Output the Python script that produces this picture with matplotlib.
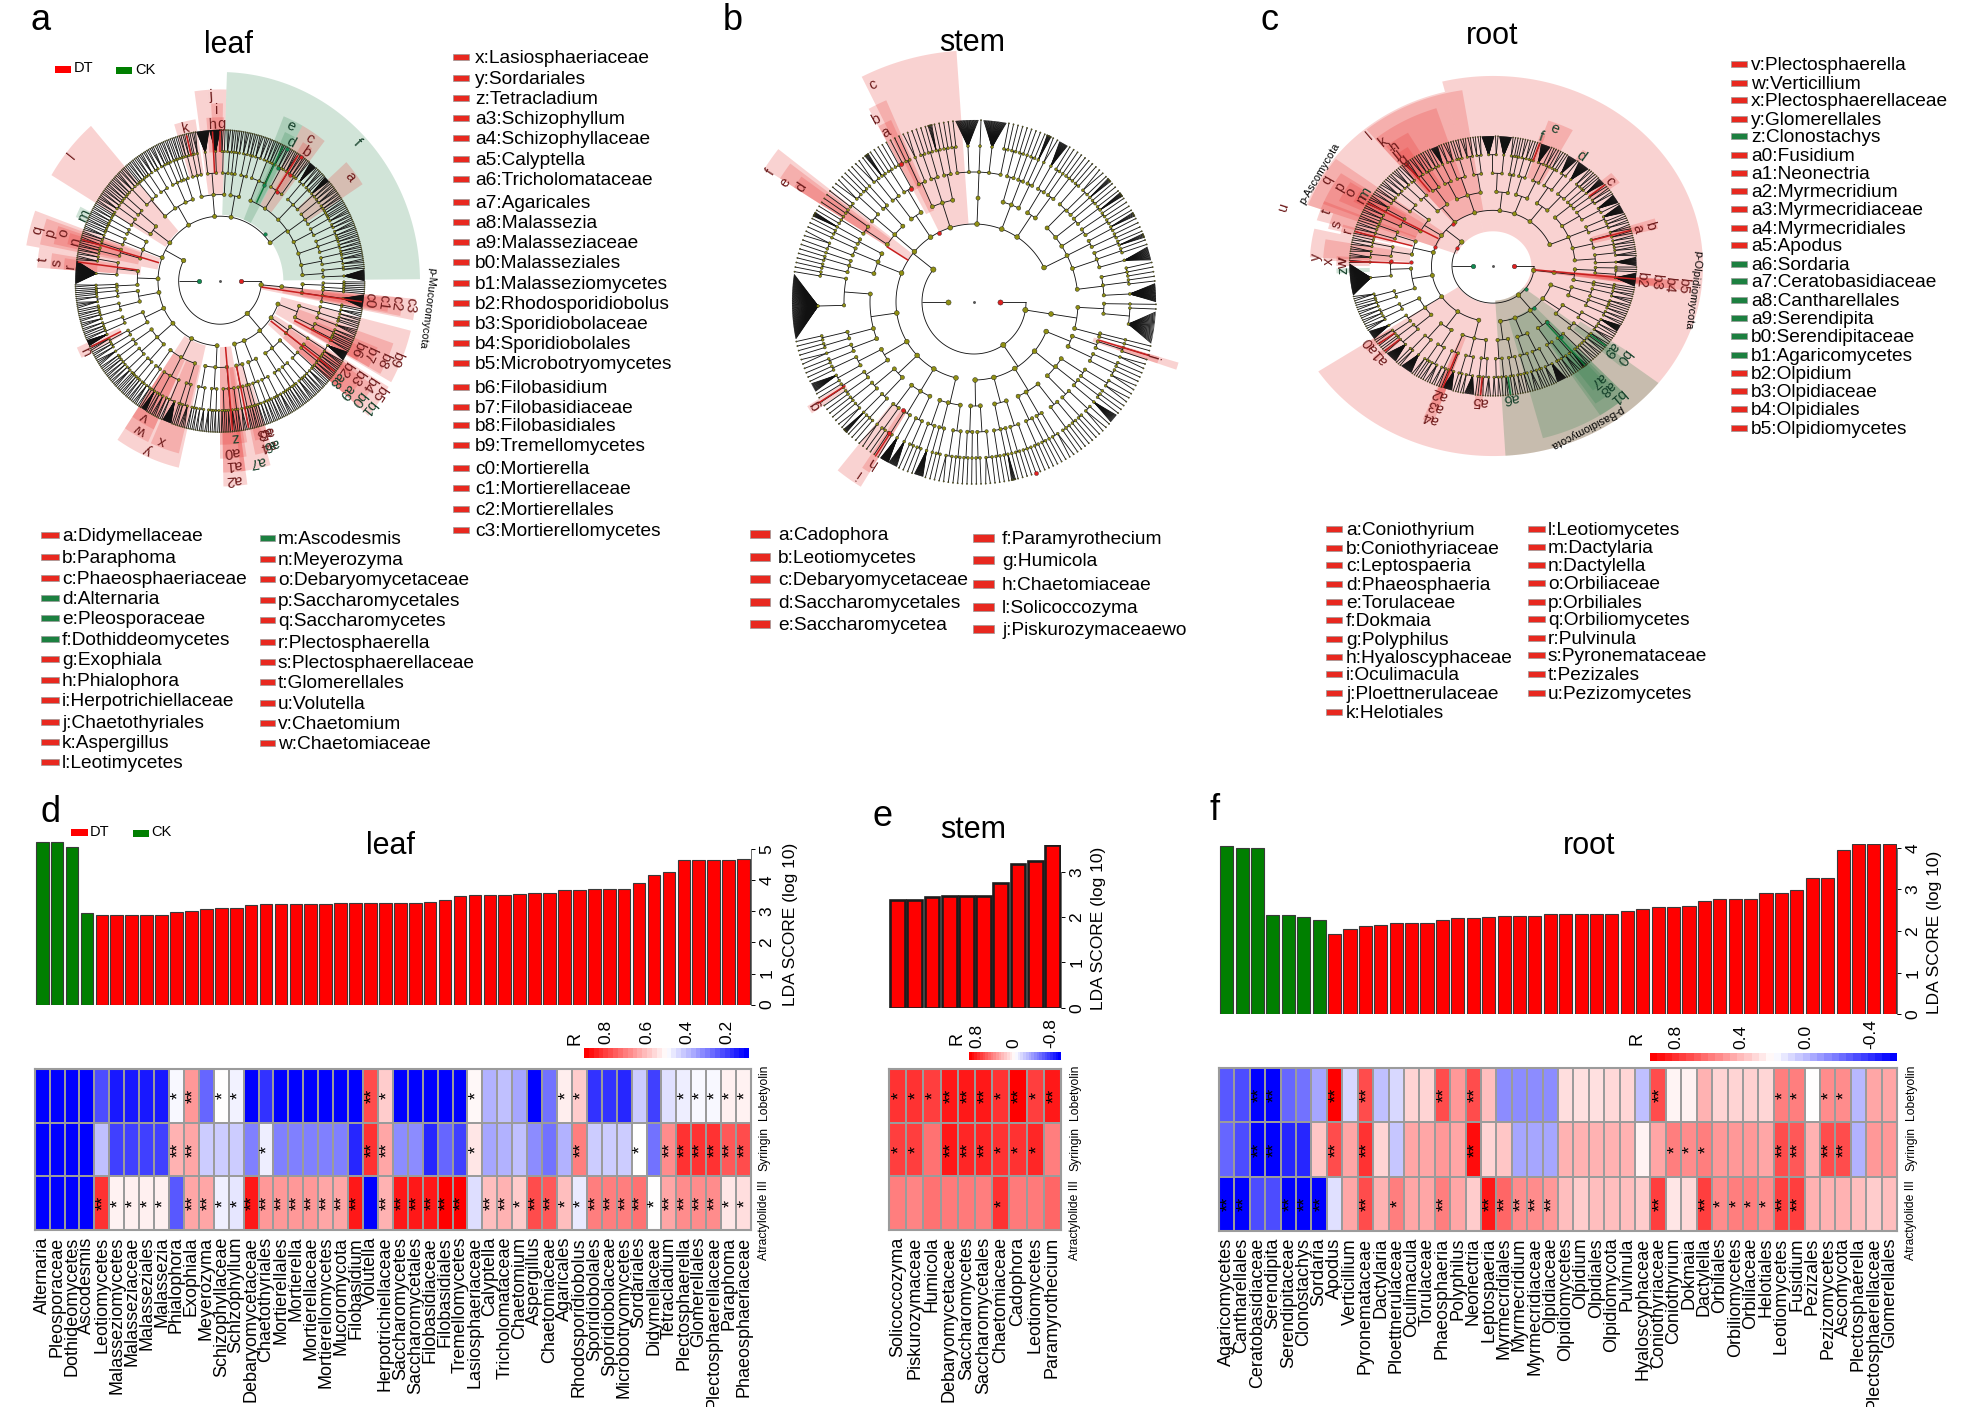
import numpy as np
import matplotlib
matplotlib.use('Agg')
import matplotlib.pyplot as plt
from matplotlib.collections import LineCollection
from matplotlib.colors import LinearSegmentedColormap, Normalize
from matplotlib.patches import Rectangle

plt.rcParams['font.family'] = ['Liberation Sans', 'DejaVu Sans']
W, H = 1961, 1407
RED, GREEN = '#ff0000', '#007f00'
LRED, LGREEN = '#e8281f', '#1c8040'

# ---------------- panel d
d_taxa = ['Alternaria','Pleosporaceae','Dothideomycetes','Ascodesmis','Leotiomycetes','Malasseziomycetes','Malasseziaceae','Malasseziales','Malassezia','Phialophora','Exophiala','Meyerozyma','Schizophyllaceae','Schizophyllum','Debaryomycetaceae','Chaetothyriales','Mortierellales','Mortierella','Mortierellaceae','Mortierellomycetes','Mucoromycota','Filobasidium','Volutella','Herpotrichiellaceae','Saccharomycetes','Saccharomycetales','Filobasidiaceae','Filobasidiales','Tremellomycetes','Lasiosphaeriaceae','Calyptella','Tricholomataceae','Chaetomium','Aspergillus','Chaetomiaceae','Agaricales','Rhodosporidiobolus','Sporidiobolales','Sporidiobolaceae','Microbotryomycetes','Sordariales','Didymellaceae','Tetracladium','Plectosphaerella','Glomerellales','Plectosphaerellaceae','Paraphoma','Phaeosphaeriaceae']
d_lda = [5.25,5.25,5.08,2.95,2.87,2.9,2.9,2.9,2.9,2.97,3.0,3.07,3.12,3.12,3.22,3.23,3.25,3.25,3.25,3.25,3.26,3.27,3.27,3.28,3.28,3.28,3.3,3.38,3.5,3.53,3.53,3.53,3.55,3.6,3.6,3.7,3.7,3.72,3.72,3.72,3.9,4.17,4.28,4.67,4.67,4.67,4.67,4.68]
d_green = 4
d_lob = [-10,-10,-10,-10,-7,-9,-9,-9,-9,-.3,4,-6,0,-.5,-10,-8,-10,-10,-10,-10,-10,-10,7,2,-10,-10,-10,-10,-10,.3,-3,-2.5,-3.5,-10,-5.5,.7,2,-8,-8,-8.5,-2,-7.5,-1.2,-.7,-.3,-.3,.6,.5]
d_syr = [-10,-10,-10,-10,-2.5,-7.5,-7.5,-7.5,-7.5,3,3.5,-2,-2,-2,-5,-.7,-5,-5,-5,-5,-5,-8.5,8,3.5,-4.5,-4.5,-8.5,-6,-7.5,1,-3.5,-3,-2.5,-4.5,-5.5,-3,5,-2,-2,-2,0,-5.5,4.5,8,8,8,6.5,7]
d_atr = [-10,-10,-10,-10,8,.5,.6,.6,.6,-6.5,3.5,3.5,-.6,-1,9,4,4,4,4,3.5,3.5,9,-10,3,9,9,9,10,10,-1.3,2.5,3,2,7,6.5,2.5,-.8,5,5,5,5.5,0,3.5,4.5,4.5,4.5,1,1.3]
d_stars = [{10:1,11:2,13:1,14:1,23:2,24:1,30:1,36:1,37:1,44:1,45:1,46:1,47:1,48:1},
           {10:2,11:2,16:1,23:2,24:2,30:1,37:2,41:1,43:2,44:2,45:2,46:2,47:2,48:2},
           {5:2,6:1,7:1,8:1,9:1,11:2,12:2,13:1,14:1,15:2,16:2,17:2,18:2,19:2,20:2,21:2,22:2,24:2,25:2,26:2,27:2,28:2,29:2,31:2,32:2,33:1,34:2,35:2,36:1,37:1,38:2,39:2,40:2,41:2,42:1,43:2,44:2,45:2,46:2,47:1,48:1}]

# ---------------- panel e
e_taxa = ['Solicoccozyma','Piskurozymaceae','Humicola','Debaryomycetaceae','Saccharomycetes','Saccharomycetales','Chaetomiaceae','Cadophora','Leotiomycetes','Paramyrothecium']
e_lda = [2.37,2.37,2.44,2.46,2.46,2.46,2.75,3.18,3.24,3.59]
e_lob = [8,8,7.5,9,9,9,8,10,7.5,9]
e_syr = [7.5,7.5,5.5,9,8.5,8.5,8,8,8.5,5]
e_atr = [5,4.8,5.5,5.2,5.2,5,8,5.2,5.2,6]
e_stars = [{1:1,2:1,3:1,4:2,5:2,6:2,7:1,8:2,9:1,10:2},{1:1,2:1,4:2,5:2,6:2,7:1,8:1,9:1},{7:1}]

# ---------------- panel f
f_taxa = ['Agaricomycetes','Cantharellales','Ceratobasidiaceae','Serendipita','Serendipitaceae','Clonostachys','Sordaria','Apodus','Verticillium','Pyronemataceae','Dactylaria','Ploettnerulaceae','Oculimacula','Torulaceae','Phaeosphaeria','Polyphilus','Neonectria','Leptospaeria','Myrmecridiales','Myrmecridium','Myrmecridiaceae','Olpidiaceae','Olpidiomycetes','Olpidium','Olpidiales','Olpidiomycota','Pulvinula','Hyaloscyphaceae','Coniothyriaceae','Coniothyrium','Dokmaia','Dactylella','Orbiliales','Orbiliomycetes','Orbiliaceae','Helotiales','Leotiomycetes','Fusidium','Pezizales','Pezizomycetes','Ascomycota','Plectosphaerella','Plectosphaerellaceae','Glomerellales']
f_lda = [4.04,3.99,3.99,2.39,2.39,2.34,2.27,1.94,2.05,2.13,2.15,2.2,2.2,2.2,2.27,2.31,2.31,2.33,2.37,2.37,2.37,2.42,2.42,2.42,2.42,2.42,2.49,2.54,2.58,2.58,2.61,2.72,2.77,2.77,2.77,2.91,2.91,2.98,3.27,3.27,3.95,4.08,4.08,4.08]
f_green = 7
f_lob = [-6.5,-7,-10,-10,-6,-5.5,-3.5,10,-1.5,7,-2.5,-1.5,1.7,1.7,7,4,7,2.5,-4.5,-4.5,-4.5,-4.5,1.3,1.2,1.2,1.5,1.6,-2.5,7,.4,.5,3,1.7,1.7,1.8,1.6,5,5,0,4.5,4.5,-2.8,3.5,3.5]
f_syr = [-6,-7,-10,-10,-8.5,-8.5,2.2,7,3.5,8,1.7,-2.2,3.5,3.5,4,3.5,9.5,1.7,2.2,-3.5,-3.5,-3.5,3,3,3,3,3,.5,3.5,5,4.5,5,4,4,4,3.5,7,6.5,3,7,7,-3,4,4]
f_atr = [-10,-10,-7,-7,-10,-10,-10,-1.2,3.5,7,3,5,3.5,3.5,5,3.5,2,9,6,4.5,4.5,4,2.5,2,2.5,2.5,2.5,2,7.5,1,1.5,7.5,4.5,5,5,4.5,7.5,7.5,3,3,3,2.5,2,2.5]
f_stars = [{3:2,4:2,8:2,10:2,15:2,17:2,29:2,37:1,38:1,40:1,41:1},
           {3:2,4:2,8:2,10:2,17:2,30:1,31:1,32:1,37:2,38:2,40:2,41:2},
           {1:2,2:2,5:2,6:2,7:2,10:2,12:1,15:2,18:2,19:2,20:2,21:2,22:2,29:2,32:2,33:1,34:1,35:1,36:1,37:2,38:2}]
rows = ['Lobetyolin', 'Syringin', 'Atractylolide III']

# ---------------- cladogram trees: phylum > class > order > family > genus (int = leaves, tuple = leaves, width)
tree_a = [
 [[[[1,1,1],[1,1,1]],[[1],[(26,7)],[1,1]]]],
 [[[[3,2],[2,1,1],[4]],[[2,2,1],[1,1,2]]],[[[(20,5),3,1]],[[2,1],[2,2]]],[[[2,1,1],[3,2,2]],[[1,1,3],[2,1]],[[2,2],[1,2,1]]],[[[3,1,1,2],[2,1]],[[2,2],[2,2]]],[[[1,1],[2]],[[1,2,1],[3]]]],
 [[[[2,1],[3,2],[1,1,2]],[[2,2,1],[1,3]],[[3,2],[2,1,2]]],
  [[[4,2],[1,1]],[[(24,5),2,2],[3,2,1],[(12,3),1]],[[2,3],[1,2]]],
  [[[2,1,2],[1,1,1]],[[3,2],[2,2,2]],[[1,2],[4]]],
  [[[2,2],[1,3]],[[(20,3),2,1],[2,2]]],
  [[[3,2,1],[2,1,1]],[[4,2],[1,1,1]]],
  [[[1,1],[2]],[[(55,12)],[3,2]]],
  [[[2,2,1],[3,1]],[[2,3],[1,1,2]],[[1,1,1],[2,2]]],
  [[[1,1,2],[3,2]],[[2,1],[2,2,1]]],
  [[[2,3,2],[2,1,1],[2,2]],[[1,2,3],[2,2]],[[3,2],[1,1,2],[2]],[[1,1],[2,1,1]]],
  [[[2,2],[1,1,1],[3]],[[(30,7)],[(34,6)]],[[2,1],[3,2]]],
  [[[1],[2,2]],[[3,2],[2,1]]],
  [[[3,3],[2,2,2],[1,3]],[[2,2,1],[3,2],[2,1,2]],[[(16,4),2],[3,1,1],[(14,3),2]],[[2,3],[2,2],[1,2,1]],[[1,1,3],[2,2]],[[3,2],[1,1,2],[2,2]],[[2,1,1],[3,3]],[[1,2],[(24,6)]]]]]
tree_b = [
 [[[[1],[1,(28,7)]],[[1],[1]]]],
 [[[[1,1],[2]],[[1,1],[1,2]]],[[[1,2],[1]],[[1,1],[(12,2)]],[[1,2],[1,1]]],[[[1,1],[1,1,1]],[[2,1],[1]],[[1,1],[1,1]]],[[[1,1,1],[1,1]],[[1],[(6,1),1],[1,1]]],[[[1,2],[1,1]],[[1],[1,1]]]],
 [[[[1,1],[1,2]],[[1,1],[1]],[[(16,2)],[1,1]]],[[[1,1],[(14,2)]],[[(24,2)],[1,1]],[[1,1],[2]]],[[[1,1,1],[(7,1)]],[[2,1],[1,1]]],
  [[[1,1],[1,1]],[[1,(12,2)],[1,1]]],
  [[[1,1],[2]],[[1,1],[1,1]],[[(90,14)],[1,1]]],
  [[[1,1],[1,1],[1]],[[1,2],[1]],[[1,1],[(8,1)]]],
  [[[1,1,1],[1,1]],[[1,1],[2,1]],[[1,1],[1]]],
  [[[2,1],[(6,1),1]],[[1,1],[1,1,1]]],[[[1,1],[2]],[[1,1],[1,1]],[[(5,1),1],[1,1]]],
  [[[1,1],[(30,5)],[1],[(30,5)],[1,1]]],
  [[[1,1],[1,1]],[[1],[1,1]],[[(8,1)],[2]]],[[[(14,2)],[1,1]],[[1],[1,1,1]]],
  [[[1,1],[2,1],[(5,1)]],[[1,1],[1,(7,1)]],[[1,1],[1,1]],[[(5,1),1],[1,1]],[[1,(5,1)],[1,1],[(18,3)]],[[1,1,1],[1,1],[(30,4)]]]]]
tree_c = [
 [[[[1,1],[1,(28,6)]],[[1,1],[1]]]],
 [[[[2,3],[2,1]],[[1,2],[2,2]]],[[[(14,3),2],[1,3]],[[2,1],[2,2,1]]],[[[2,1,2],[(8,2),1]],[[3,2],[1,1]]],[[[(18,4),3],[1,1]],[[2,3],[1,2]]],[[[1,2],[2,1]],[[3,1],[2,2]]]],
 [[[[3,2],[1,1]],[[(14,4),2],[2,1]],[[(18,4),1],[2,2]]],[[[3,2],[1,1,2]],[[(20,5)],[2,1]]],[[[(20,5),2],[1,1]],[[2,2],[(16,4)]],[[3,1],[2,2]]],
  [[[2,2,1],[1,3]],[[(70,14)],[2]]],[[[3,3],[2,2,1]],[[2,2,2],[1,2]]],[[[1,2,2],[2,3]],[[2,2,1],[3,2]]],[[[2,3],[1,2]],[[3,2],[2,1]]],
  [[[2,2,1],[(12,3)]],[[2,3],[1,1,2]],[[3,2],[2,2]]],[[[(30,5),2],[(28,5)]],[[2,1],[1,1]]],[[[2,2],[1,1,1]],[[(18,4),1],[2,1]]],
  [[[2,1,1],[(14,4),1]],[[(20,5)],[2,2]]],[[[1,1],[(10,3)],[2]],[[2,2],[(18,4),1]],[[(16,4),1],[2,2]],[[3,2],[2,2,1]],[[2,3],[(14,4)]]]]]

# ---------------- cladogram highlights (inner, outer, from deg, to deg, kind)
wedges_a = [(190,600,.5,88,'g'),(310,510,33,42,'r'),(250,510,52,61,'r'),(310,470,54,58,'r'),(190,510,61,68,'g'),(250,470,61.5,65.5,'g'),
 (250,550,88,98,'r'),(310,510,89,93,'r'),(370,470,88.5,95,'r'),(310,470,99,107,'r'),(190,590,131,149,'r'),(430,470,153,157,'g'),
 (190,590,160,170,'r'),(250,550,161,169,'r'),(310,510,162,168,'r'),(370,470,163,167,'r'),(240,550,170,176,'r'),(310,510,171,176,'r'),(370,470,172,176,'r'),
 (330,470,204,208,'r'),(190,550,236,257,'r'),(250,510,246,256,'r'),(250,510,236,245,'r'),(310,470,236,245,'r'),
 (190,470,270,280,'r'),(250,510,270,279,'r'),(310,550,271,278,'r'),(370,590,271,278,'r'),(250,550,276.5,286,'r'),(310,510,282,288,'r'),(370,470,283,288,'r'),
 (190,590,-41,-31,'r'),(250,550,-41,-33,'r'),(310,510,-41,-35,'r'),(370,470,-41,-37,'r'),(370,470,-35,-32,'r'),(310,510,-35,-32,'r'),
 (190,590,-29.5,-14,'r'),(250,550,-29,-19,'r'),(310,510,-29,-22,'r'),(370,470,-29,-24,'r'),
 (125,590,-11,-5,'r'),(190,550,-10.5,-5,'r'),(250,510,-10,-5.5,'r'),(310,470,-9.5,-6,'r')]
wedges_b = [(235,755,94,116.5,'r'),(300,660,113.5,118.6,'r'),(380,600,114.5,118.5,'r'),(235,745,142,147.5,'r'),(310,690,143,147.5,'r'),(380,640,144,147.5,'r'),
 (460,590,212,214.5,'r'),(385,600,236,238.5,'r'),(390,650,231,238.5,'r'),(375,640,-18.5,-16.5,'r'),(450,580,-18.5,-16.5,'r')]
wedges_c = [(115,630,-38,104,'r'),(115,595,104,160,'r'),(125,630,213.7,273.4,'r'),(115,630,273.4,322,'r'),(115,630,273.4,322,'t'),(180,590,284.7,313,'g'),
 (250,590,303,313,'g'),(310,550,304,312,'g'),(370,510,306,311,'g'),(320,510,-41,-35,'g'),(370,470,-40,-36,'g'),(370,440,276,278,'g'),(370,470,181,183,'g'),
 (250,550,167,177,'r'),(310,510,170,178,'r'),(370,470,176,180,'r'),(250,550,157,164,'r'),(310,510,160,166,'r'),(370,470,163,167,'r'),
 (180,590,143,160,'r'),(250,550,146,158,'r'),(310,510,147,155,'r'),(370,470,148,153,'r'),(185,590,99,130,'r'),(250,550,108,130,'r'),(310,510,120,129,'r'),(370,470,123,129,'r'),
 (310,510,62,71,'r'),(370,460,70,72,'r'),(370,470,36,41,'r'),(430,470,53,55,'r'),(310,510,14,18,'r'),(370,470,15,17,'r'),
 (125,590,-8,-4.8,'r'),(187,550,-8,-5,'r'),(250,510,-7.5,-5,'r'),(310,470,-7.2,-5.2,'r'),(250,550,247.5,251,'r'),(310,510,248,251,'r'),(370,470,248,251,'r'),
 (370,470,263,266,'r'),(370,470,214,217,'r'),(370,470,220,222,'r')]
labels_a = [('a',37.4,491),('b',55.4,450),('c',56.6,491),('d',62,452),('e',64.4,492),('f',43.9,571),('g',89.5,450),('h',92.8,450),('i',91.2,490),('j',93,531),('k',103.2,451),('l',141.2,571),('m',155.3,449),('n',165.6,449),('o',163.5,490),('p',165,528),('q',165,566),('r',174.5,452),('s',173.8,491),('t',173.4,533),('u',206.3,448),('v',240,450),('w',241.3,489),('x',249.3,489),('y',246,531),('z',275.7,450),('a0',274,490),('a1',274.3,530),('a2',274.2,571),('a3',286.6,454),('a5',287.5,454),('a4',287,494),('a6',288,494),('a7',282,531),('a8',-39.2,451),('a9',-40,496),('b0',-39.3,536),('b1',-39.4,575),('b2',-33.9,452),('b3',-34,494),('b4',-33.5,534),('b5',-34.1,574),('b6',-25.3,454),('b7',-25,494),('b8',-25,540),('b9',-22.9,573),('c0',-6.9,451),('c1',-7,494),('c2',-7,532),('c3',-7,574)]
labels_b = [('c',115,718),('b',118.3,621),('a',117.6,572),('f',147.4,724),('e',147.6,672),('d',146.5,622),('g',213,569),('h',237.7,570),('i',236,621),('j',-16.4,566)]
labels_c = [('a',16.1,450),('b',15.9,491),('c',38.7,448),('d',54.2,450),('e',67.9,492),('f',71.3,453),('g',127.6,443),('i',127,470),('j',128.5,470),('h',126.7,494),('k',128.7,528),('l',130.6,570),('m',148,454),('n',151,452),('o',150.2,492),('p',150.2,530),('q',150.2,573),('r',164.7,451),('s',163.5,490),('t',160.2,531),('u',162.6,660),('v',177.5,450),('w',179,450),('z',181.8,450),('x',178,492),('y',176.6,531),('a0',215.4,452),('a1',221.4,453),('a2',249.4,454),('a3',249.7,495),('a4',249.5,536),('a5',264.9,450),('a6',277,442),('a7',-50.2,492),('a8',-50,529),('a9',-38.3,449),('b0',-37.6,492),('b1',-49,571),('b2',-5.6,447),('b3',-6,493),('b4',-6.5,533),('b5',-6.6,574)]
phylum_a = [('p-Mucoromycota',-7.2,625)]
phylum_c = [('p-Ascomycota',149.4,604),('p-Olpidiomycota',-7.6,605),('p-Basidiomycota',-62.3,602)]
redlines_a = [(-8,125,430),(-37,190,430),(-27,250,380),(172.7,250,430),(164,190,430),(206,330,430),(93,310,430),(90,370,430),(57,310,430),(275,190,430),(281.5,250,430),(103.5,370,430)]
greenlines_a = [(64,250,430)]
redlines_b = [(147.6,233,310),(-17,390,548),(213,460,560),(237.4,470,550)]
redlines_c = [(-5.8,125,430),(151,187,430),(164.6,250,430),(178,250,430),(16,310,430),(38.7,370,430),(71,370,430),(127.6,310,430),(217,370,430),(221,370,430),(249.5,310,430),(265,370,430)]
greenlines_c = [(277,370,430),(-50,250,430),(-38,370,430)]
rednodes_a = [(56.5,308),(55.4,370),(55.7,431)]
greennodes_a = [(45,190),(64.4,307),(61.7,370),(62,430)]
rednodes_b = [(117,234),(117.9,467),(119,389),(236.9,388),(237,470),(290,545)]
rednodes_c = [(150.3,123),(131,185),(160,184),(177,245),(177,307)]
greennodes_c = [(-37.8,124),(-48.5,184),(-49,247),(-49,310)]

# ---------------- legends
la1 = ['a:Didymellaceae','b:Paraphoma','c:Phaeosphaeriaceae','d:Alternaria','e:Pleosporaceae','f:Dothiddeomycetes','g:Exophiala','h:Phialophora','i:Herpotrichiellaceae','j:Chaetothyriales','k:Aspergillus','l:Leotimycetes']
la2 = ['m:Ascodesmis','n:Meyerozyma','o:Debaryomycetaceae','p:Saccharomycetales','q:Saccharomycetes','r:Plectosphaerella','s:Plectosphaerellaceae','t:Glomerellales','u:Volutella','v:Chaetomium','w:Chaetomiaceae']
la3 = ['x:Lasiosphaeriaceae','y:Sordariales','z:Tetracladium','a3:Schizophyllum','a4:Schizophyllaceae','a5:Calyptella','a6:Tricholomataceae','a7:Agaricales','a8:Malassezia','a9:Malasseziaceae','b0:Malasseziales','b1:Malasseziomycetes','b2:Rhodosporidiobolus','b3:Sporidiobolaceae','b4:Sporidiobolales','b5:Microbotryomycetes','b6:Filobasidium','b7:Filobasidiaceae','b8:Filobasidiales','b9:Tremellomycetes','c0:Mortierella','c1:Mortierellaceae','c2:Mortierellales','c3:Mortierellomycetes']
lb1 = ['a:Cadophora','b:Leotiomycetes','c:Debaryomycetaceae','d:Saccharomycetales','e:Saccharomycetea']
lb2 = ['f:Paramyrothecium','g:Humicola','h:Chaetomiaceae','l:Solicoccozyma','j:Piskurozymaceaewo']
lc1 = ['a:Coniothyrium','b:Coniothyriaceae','c:Leptospaeria','d:Phaeosphaeria','e:Torulaceae','f:Dokmaia','g:Polyphilus','h:Hyaloscyphaceae','i:Oculimacula','j:Ploettnerulaceae','k:Helotiales']
lc2 = ['l:Leotiomycetes','m:Dactylaria','n:Dactylella','o:Orbiliaceae','p:Orbiliales','q:Orbiliomycetes','r:Pulvinula','s:Pyronemataceae','t:Pezizales','u:Pezizomycetes']
lc3 = ['v:Plectosphaerella','w:Verticillium','x:Plectosphaerellaceae','y:Glomerellales','z:Clonostachys','a0:Fusidium','a1:Neonectria','a2:Myrmecridium','a3:Myrmecridiaceae','a4:Myrmecridiales','a5:Apodus','a6:Sordaria','a7:Ceratobasidiaceae','a8:Cantharellales','a9:Serendipita','b0:Serendipitaceae','b1:Agaricomycetes','b2:Olpidium','b3:Olpidiaceae','b4:Olpidiales','b5:Olpidiomycetes']
green_items = {'d:Alternaria','e:Pleosporaceae','f:Dothiddeomycetes','m:Ascodesmis','z:Clonostachys','a6:Sordaria','a7:Ceratobasidiaceae','a8:Cantharellales','a9:Serendipita','b0:Serendipitaceae','b1:Agaricomycetes'}

fig = plt.figure(figsize=(W/100, H/100), dpi=100)
def axpx(x0, y0, x1, y1, **kw):
    return fig.add_axes([x0/W, 1-y1/H, (x1-x0)/W, (y1-y0)/H], **kw)

ov = axpx(0, 0, W, H, zorder=5)
ov.set_xlim(0, W); ov.set_ylim(H, 0); ov.axis('off'); ov.patch.set_alpha(0)
base = axpx(0, 0, W, H, zorder=0)
base.set_xlim(0, W); base.set_ylim(H, 0); base.axis('off')

cmap = LinearSegmentedColormap.from_list('bwr2', ['#0000ff', '#ffffff', '#ff0000'])
norm = Normalize(-10, 10)

def bars(box, vals, n_green, ymax, ticks, width=.85, lw=.8, ec='#3a3a3a'):
    ax = axpx(*box)
    x = np.arange(len(vals)) + .5
    cols = [GREEN]*n_green + [RED]*(len(vals)-n_green)
    ax.bar(x, vals, width=width, color=cols, edgecolor=ec, linewidth=lw)
    ax.set_xlim(0, len(vals)); ax.set_ylim(0, ymax)
    for s in ['top', 'left', 'bottom']:
        ax.spines[s].set_visible(False)
    ax.spines['right'].set_linewidth(.6); ax.spines['right'].set_color('#555555')
    ax.spines['right'].set_bounds(0, ticks[-1])
    ax.set_xticks([])
    ax.yaxis.tick_right(); ax.set_yticks(ticks)
    ax.tick_params(axis='y', length=3, width=.7, pad=3, labelsize=12.5)
    for t in ax.get_yticklabels():
        t.set_rotation(90); t.set_va('center')
    return ax

def heat(box, taxa, rowsv, stars, rowx, star_size=13):
    ax = axpx(*box)
    n = len(taxa)
    ax.pcolormesh(np.arange(n+1), np.arange(4), np.array(rowsv), cmap=cmap, norm=norm,
                  edgecolors='#9b9b9b', linewidth=1.3)
    ax.set_xlim(0, n); ax.set_ylim(3, 0)
    for s in ax.spines.values():
        s.set_color('#9b9b9b'); s.set_linewidth(1.5)
    ax.set_yticks([])
    ax.set_xticks(np.arange(n)+.5)
    ax.set_xticklabels(taxa, rotation=90, fontsize=13, ha='center', va='top')
    ax.tick_params(axis='x', length=0, pad=5)
    for r, st in enumerate(stars):
        for c, k in st.items():
            ax.annotate('*'*k, (c-.5, r+.5), xytext=(1.5, 0), textcoords='offset points', ha='center', va='center',
                        rotation=90, fontsize=star_size, color='black')
    for txt, yc in zip(rows, [1092, 1149, 1220]):
        ov.text(rowx, yc, txt, rotation=90, ha='center', va='center', fontsize=8.7)
    return ax

def cbar(box, lo, hi, ticks, tlabels, rx, nsteps=34):
    ax = axpx(*box)
    e = np.linspace(lo, hi, nsteps+1)
    ss = np.linspace(10, -10, nsteps)[None, :]
    ax.pcolormesh(e, [0, 1], ss, cmap=cmap, norm=norm)
    ax.set_xlim(lo, hi); ax.set_ylim(0, 1); ax.set_yticks([])
    for s in ax.spines.values():
        s.set_visible(False)
    ax.xaxis.tick_top(); ax.set_xticks(ticks); ax.set_xticklabels(tlabels, rotation=90, fontsize=12.5, ha='center', va='bottom')
    ax.tick_params(axis='x', length=0, pad=3)
    ov.text(rx, 1045, 'R', rotation=90, ha='center', va='bottom', fontsize=13)

bars((34.7, 840, 751, 1004.6), d_lda, d_green, 5.3, [0,1,2,3,4,5])
heat((34.7, 1069, 751, 1230), d_taxa, [d_lob, d_syr, d_atr], d_stars, 764)
cbar((584, 1048, 749, 1058), .91, .09, [.8,.6,.4,.2], ['0.8','0.6','0.4','0.2'], 575)
bars((889, 845, 1061, 1007.7), e_lda, 0, 3.59, [0,1,2,3], width=.86, lw=1.9, ec='#1c1c1c')
heat((889, 1069, 1061, 1230), e_taxa, [e_lob, e_syr, e_atr], e_stars, 1075)
cbar((969, 1052, 1061, 1060), .96, -1.03, [.8,0,-.8], ['0.8','0','-0.8'], 957)
bars((1219, 844, 1897, 1014.4), f_lda, f_green, 4.09, [0,1,2,3,4])
heat((1219, 1068, 1897, 1231), f_taxa, [f_lob, f_syr, f_atr], f_stars, 1911)
cbar((1650, 1053, 1897, 1061), .96, -.56, [.8,.4,0,-.4], ['0.8','0.4','0.0','-0.4'], 1637)

for tx, ty in [(790, 924), (1098, 928), (1934, 932)]:
    ov.text(tx, ty, 'LDA SCORE (log 10)', rotation=90, ha='center', va='center', fontsize=12.5)

# ---------------- titles
for s, x, y in [('a',41,21),('b',733,21),('c',1270,21),('d',50,812),('e',883,817),('f',1215,811)]:
    ov.text(x, y, s, ha='center', va='center', fontsize=26)
for s, x, y in [('leaf',229,45),('stem',972,43),('root',1492,36),('leaf',390,846),('stem',973,830),('root',1589,846)]:
    ov.text(x, y, s, ha='center', va='center', fontsize=22)

for (x0, y0, tx) in [(55, 66, 74), (71, 829, 90)]:
    w = 16 if x0 == 55 else 17
    ov.add_patch(Rectangle((x0, y0), w, 7, fc=RED, ec='none'))
    ov.text(tx, y0+2.5, 'DT', ha='left', va='center', fontsize=10.5)
for (x0, y0, tx) in [(116, 67, 135), (133, 830, 151)]:
    ov.add_patch(Rectangle((x0, y0), 16, 7, fc=GREEN, ec='none'))
    ov.text(tx, y0+2.5, 'CK', ha='left', va='center', fontsize=10.5)

# ---------------- taxon lists
def taxon_list(items, ys, xr, wr, xt, fs=13.8, h=6):
    for s, y in zip(items, ys):
        col = LGREEN if s in green_items else LRED
        ov.add_patch(Rectangle((xr, y-h/2), wr, h, fc=col, ec='#999999', lw=.5))
        ov.text(xt, y+1.5, s, ha='left', va='center', fontsize=fs)
S = 1.2506
taxon_list(la1, [S*v for v in [428,445,462,478,494,511,527,544,560,577,593,609]], 41, 18, 62)
taxon_list(la2, [S*v for v in [430,447,463,480,496,513,529,545,562,578,594]], 260, 15, 278)
taxon_list(la3, [57,78,98,118,138,159,179,202,222,242,262,283,303,323,343,363,387,407,425,445,468,488,509,530], 453, 16, 475)
taxon_list(lb1, [S*v for v in [427,445,463,481,499]], 750, 20, 778, h=8)
taxon_list(lb2, [S*v for v in [430,448,467,485,503]], 973, 21, 1002, h=8)
taxon_list(lc1, [S*v for v in [423,438,452,467,481,496,511,525,539,554,569]], 1326, 16, 1346)
taxon_list(lc2, [S*v for v in [423,437,452,466,481,495,510,524,539,554]], 1528, 17, 1548)
taxon_list(lc3, [S*v for v in [51,66,80,95,109,124,138,153,167,182,196,211,225,240,254,269,284,298,313,327,342]], 1731, 16, 1751)

# ---------------- cladogram drawing
def clado(cx, cy, asp, step, unit_tree, wedges, labels, phyla, red, green, rnodes, gnodes, scale=1/3., lw=.62, msize=1.0):
    def P(deg, r):
        t = np.radians(deg)
        return cx + scale*r*np.cos(t), cy - scale*r*asp*np.sin(t)
    def units(sp):
        if isinstance(sp, int):
            return sp
        if isinstance(sp, tuple):
            return sp[1]
        return sum(units(c) for c in sp)
    total = units(unit_tree)
    k = 360./total
    segs, nodes = [], []
    cursor = [0.]
    def deg(u):
        return -u*k
    def arc(r, a0, a1):
        n = max(2, int(abs(a1-a0)/1.5)+2)
        segs.append([P(a, r) for a in np.linspace(a0, a1, n)])
    def place(sp, lv):
        if isinstance(sp, (int, tuple)):
            n, w = (sp, sp) if isinstance(sp, int) else sp
            c0 = cursor[0]; cursor[0] += w
            angs = [deg(c0 + (i+.5)*w/n) for i in range(n)]
            a = .5*(angs[0]+angs[-1])
            for L in range(lv, 7):
                nodes.append((a, L))
            if lv < 6:
                segs.append([P(a, step*lv), P(a, step*6)])
            for b in angs:
                segs.append([P(a, step*6), P(b, step*7)])
            if n <= 8:
                nodes.extend((b, 7) for b in angs)
            return a
        ch = [place(c, lv+1) for c in sp]
        a = .5*(ch[0]+ch[-1])
        segs.append([P(a, step*lv), P(a, step*(lv+1))])
        if len(ch) > 1:
            arc(step*(lv+1), ch[0], ch[-1])
        nodes.append((a, lv))
        return a
    phy = [place(c, 2) for c in unit_tree]
    segs.append([P(0, step), P(0, step*2)])
    arc(step*2, 0, phy[-1])
    segs.append([P(180, step), P(180, step*2)])
    colors = {'r': ('#e8332e', .22), 'g': ('#1a7a40', .2), 't': ('#2a7a40', .24)}
    for r0, r1, a0, a1, kind in wedges:
        aa = np.linspace(a0, a1, max(3, int(abs(a1-a0))+2))
        poly = [P(a, r1) for a in aa] + [P(a, r0) for a in aa[::-1]]
        fc, al = colors[kind]
        base.fill(*zip(*poly), fc=fc, alpha=al, ec='none', zorder=1)
    base.add_collection(LineCollection(segs, colors='#111111', linewidths=lw, zorder=2))
    sizes = np.array([0, 5.2, 4.6, 4.2, 3.6, 3.0, 2.5, 1.1])*msize
    xy = np.array([P(a, step*L) for a, L in nodes])
    ls = np.array([L for a, L in nodes])
    base.scatter(xy[:, 0], xy[:, 1], s=(sizes[ls]*.72)**2, c='#8f8f12', edgecolors='#1c1c1c', linewidths=.3, zorder=3)
    base.scatter(*P(0, step), s=(4.5*msize*.72)**2, c='#e02020', edgecolors='#222', linewidths=.3, zorder=4)
    base.scatter(*P(180, step), s=(4.5*msize*.72)**2, c='#108a50' if green or gnodes else '#8f8f12', edgecolors='#222', linewidths=.3, zorder=4)
    base.scatter([cx], [cy], s=1.2, c='#555555', zorder=3)
    for lst, col in [(red, '#c81e1e'), (green, '#127a3c')]:
        for a, r0, r1 in lst:
            base.plot(*zip(P(a, r0), P(a, r1)), color=col, lw=1.1, zorder=3.5, solid_capstyle='butt')
    for lst, col in [(rnodes, '#e02020'), (gnodes, '#108a50')]:
        for a, r in lst:
            base.scatter(*P(a, r), s=(3.6*msize*.72)**2, c=col, edgecolors='#222', linewidths=.25, zorder=4)
    for s, a, r in labels:
        x, y = P(a, r)
        dark = '#15402a' if s in ('d','e','f','m','z','a6','a7','a8','a9','b0','b1') and unit_tree is not tree_b else '#6d1a1a'
        base.text(x, y, s, rotation=a-90, ha='center', va='center', rotation_mode='anchor', fontsize=10.5, color=dark, zorder=5)
    for s, a, r in phyla:
        x, y = P(a, r)
        base.text(x, y, s, rotation=a-90, ha='center', va='center', rotation_mode='anchor', fontsize=7.8, color='black', zorder=5)

clado(220, 281, 1.045, 62, tree_a, wedges_a, labels_a, phylum_a, redlines_a, greenlines_a, rednodes_a, greennodes_a)
clado(974, 302, 1.0, 78, tree_b, wedges_b, labels_b, [], redlines_b, [], rednodes_b, [], lw=.62, msize=1.15)
clado(1493, 266, .905, 61.5, tree_c, wedges_c, labels_c, phylum_c, redlines_c, greenlines_c, rednodes_c, greennodes_c)

fig.savefig('out.png', dpi=100, facecolor='white')
